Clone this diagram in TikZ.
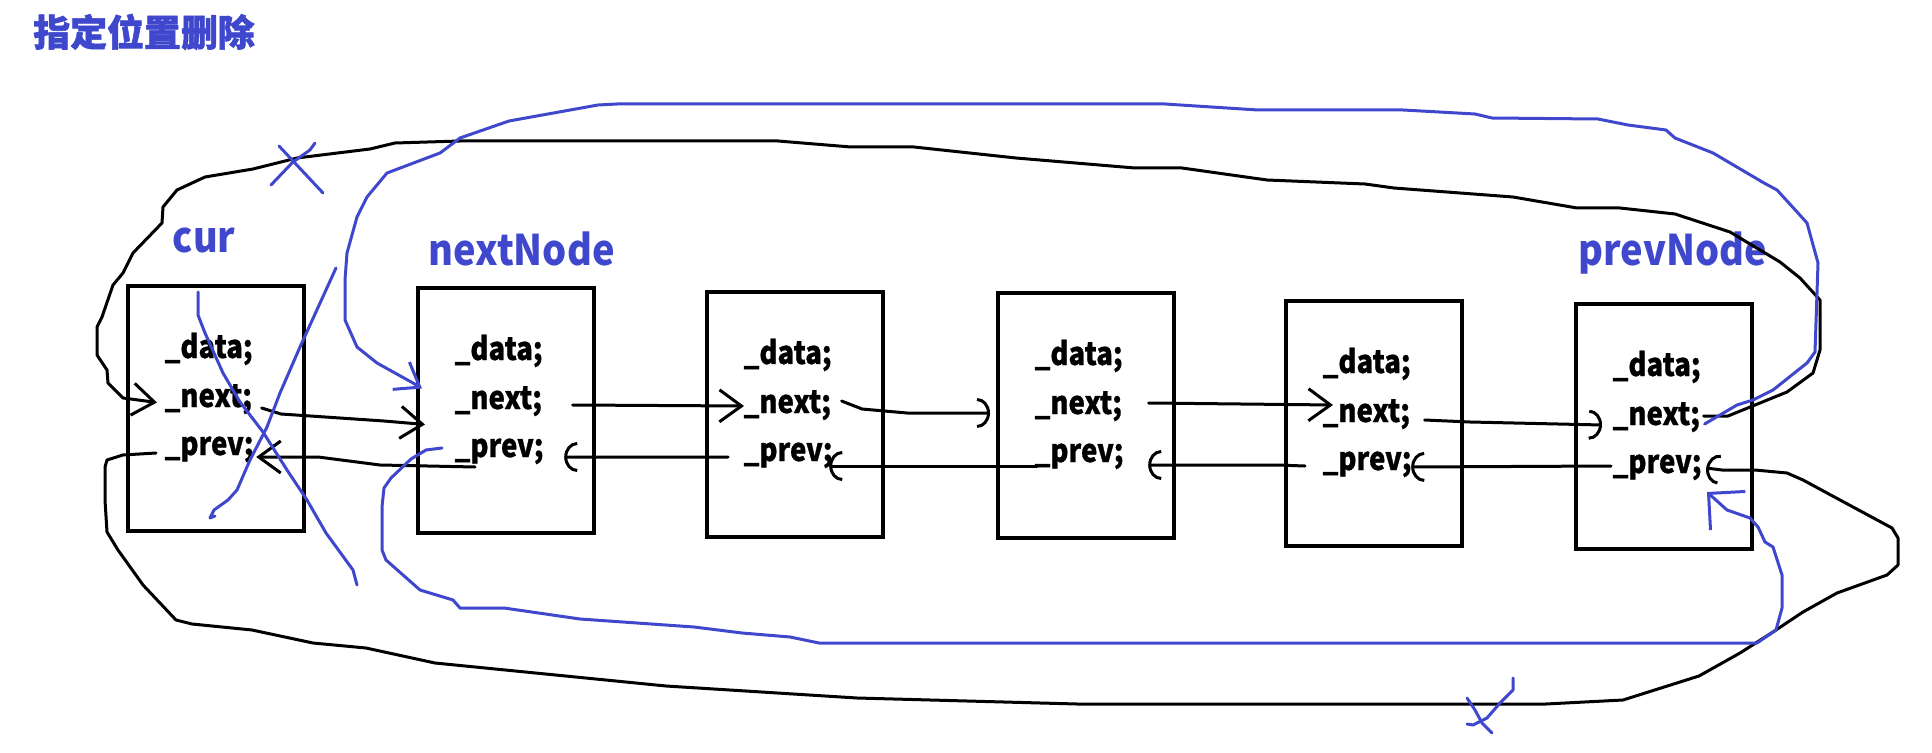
\documentclass[tikz,border=0pt]{standalone}
\usepackage{fontspec}
\setmainfont{Noto Sans CJK SC}
\newfontfamily\memberfont{Noto Sans CJK SC}[FakeStretch=0.87,FakeBold=0.8]
\newfontfamily\namefont{Noto Sans CJK SC}[FakeStretch=0.9]
\newfontfamily\titlefont{Noto Sans CJK SC}[FakeBold=1.5]
\usetikzlibrary{arrows.meta,positioning,calc}
\definecolor{penblue}{RGB}{63,72,204}

\begin{document}
\begin{tikzpicture}[
  x=0.1mm, y=-0.1mm,
  >={Straight Barb[length=2.2mm,width=3.2mm]},
  pen/.style={line width=0.3mm, line cap=round, line join=round},
  bluepen/.style={pen, penblue},
  hookhead/.style={-{Arc Barb[length=1.3mm,width=3mm]}},
  box/.style={draw, line width=0.45mm, minimum width=17.6mm, minimum height=24.5mm,
              inner sep=0pt, outer sep=0pt},
  member/.style={anchor=base west, inner sep=0pt,
                 font=\memberfont\fontsize{9}{10}\selectfont\bfseries},
  varname/.style={anchor=base west, inner sep=0pt, text=penblue,
                  font=\namefont\fontsize{12}{14}\selectfont\bfseries},
  heading/.style={inner sep=0pt, text=penblue,
                  font=\titlefont\fontsize{10.5}{12}\selectfont\bfseries},
]
\useasboundingbox (0,0) rectangle (1932,753);

\node[heading] (ttl) at (144,32) {指定位置删除};

% list nodes
\node[box, anchor=north west] (b1) at (128,286) {};
\node[box, right=11.4mm of b1, yshift=-0.2mm] (b2) {};
\node[box, right=11.3mm of b2, yshift=-0.4mm] (b3) {};
\node[box, right=11.5mm of b3, yshift=-0.1mm] (b4) {};
\node[box, right=11.2mm of b4, yshift=-0.8mm] (b5) {};
\node[box, right=11.4mm of b5, yshift=-0.3mm] (b6) {};

\foreach \i in {1,...,6}{
  \node[member] (d\i) at ($(b\i.north west)+(36,72)$) {\_data;};
  \node[member] (n\i) at ($(b\i.north west)+(36,121)$) {\_next;};
  \node[member] (p\i) at ($(b\i.north west)+(36,169)$) {\_prev;};
}

\node[varname] (lcur) at ($(b1.north west)+(44,-34)$) {cur};
\node[varname] (lnext) at ($(b2.north west)+(10,-22)$) {nextNode};
\node[varname] (lprev) at ($(b6.north west)+(2,-38)$) {prevNode};

% _next links
\draw[pen,->] ($(n1.base east)+(9,1)$) -- (281,414) -- (384,421) -- ($(b2.west)+(7,14)$);
\draw[pen,->] ($(n2.base east)+(30,-4)$) -- ($(n3.base west)+(1,-7)$);
\draw[pen,hookhead] ($(n3.base east)+(10,-12)$) -- (862,409) -- (907,413) -- ($(n4.base west)+(-44,-1)$);
\draw[pen,->] ($(n4.base east)+(26,-11)$) -- ($(n5.base west)+(11,-17)$);
\draw[pen,hookhead] ($(n5.base east)+(14,-2)$) -- (1470,422) -- ($(n6.base west)+(-10,0)$);

% _prev links
\draw[pen,->] ($(p2.base west)+(21,10)$) -- (380,465) -- (318,457) -- ($(p1.base east)+(2,2)$);
\draw[pen,hookhead] ($(p3.base west)+(-15,-4)$) -- ($(p2.base east)+(20,0)$);
\draw[pen,hookhead] ($(p4.base west)+(3,4)$) -- ($(p3.base east)+(-4,5)$);
\draw[pen,hookhead] ($(p5.base west)+(-17,-4)$) -- (1277,465) -- ($(p4.base east)+(24,3)$);
\draw[pen,hookhead] ($(p6.base west)+(-1,-7)$) -- ($(p5.base east)+(-1,-3)$);

% old links around cur (crossed out)
\draw[pen,->] ($(n6.base east)+(3,-9)$) -- (1728,416) -- (1787,392) -- (1813,373) -- (1820,350)
  -- (1820,300) -- (1800,278) -- (1780,262) -- (1730,232) -- (1675,214) -- (1620,208)
  -- (1577,208) -- (1513,197) -- (1394,188) -- (1365,184) -- (1267,180) -- (1182,168)
  -- (1135,168) -- (1016,158) -- (914,147) -- (851,147) -- (778,141) -- (460,141)
  -- (395,143) -- (370,149) -- (297,158) -- (253,169) -- (205,177) -- (177,190)
  -- (163,207) -- (162,223) -- (133,253) -- (123,273) -- (113,285) -- (102,317)
  -- (97,327) -- (97,355) -- (107,370) -- (108,383) -- (123,398) -- ($(b1.west)+(29,-6)$);
\draw[pen,hookhead] ($(p1.base west)+(-8,-2)$) -- (123,455) -- (107,460) -- (105,467)
  -- (105,500) -- (107,532) -- (118,550) -- (143,585) -- (176,620) -- (192,624)
  -- (252,630) -- (313,643) -- (366,648) -- (435,663) -- (666,686) -- (857,698)
  -- (1077,704) -- (1546,704) -- (1623,700) -- (1699,676) -- (1740,653) -- (1773,632)
  -- (1803,612) -- (1837,593) -- (1887,575) -- (1898,565) -- (1898,538) -- (1892,528)
  -- (1827,493) -- (1803,480) -- (1787,473) -- (1755,470) -- (1722,470)
  -- ($(p6.base east)+(4,-5)$);

% new links prevNode <-> nextNode
\draw[bluepen,->] ($(n6.base east)+(4,-1)$) -- (1737,405) -- (1753,400) -- (1773,390)
  -- (1807,363) -- (1815,352) -- (1818,263) -- (1807,223) -- (1798,213) -- (1777,190)
  -- (1764,183) -- (1713,153) -- (1675,138) -- (1666,130) -- (1628,125) -- (1598,119)
  -- (1492,118) -- (1475,114) -- (1403,110) -- (1258,110) -- (1165,104) -- (617,104)
  -- (598,105) -- (509,121) -- (460,138) -- (440,153) -- (387,173) -- (367,197)
  -- (357,217) -- (347,253) -- (345,280) -- (345,320) -- (357,347) -- (377,363)
  -- (413,383) -- ($(b2.west)+(4,-22)$);
\draw[bluepen,-{Straight Barb[length=2.6mm,width=5.2mm]}] ($(p2.base west)+(-12,-9)$)
  -- (426,450) -- (411,459) -- (391,478) -- (384,488) -- (382,507) -- (382,550)
  -- (386,560) -- (420,590) -- (453,600) -- (460,608) -- (504,608) -- (580,619)
  -- (694,627) -- (742,633) -- (790,637) -- (819,643) -- (1757,643) -- (1776,630)
  -- (1782,608) -- (1782,575) -- (1773,547) -- (1765,542) -- (1758,527) -- (1750,518)
  -- (1727,510) -- ($(b6.south east)+(-45,-57)$);

% crossing out
\draw[bluepen] (198,292) -- (198,315) -- (205,333) -- (223,373) -- (240,402) -- (263,432)
  -- (287,470) -- (307,500) -- (326,533) -- (353,570) -- (357,585);
\draw[bluepen] (336,268) -- (300,347) -- (280,393) -- (267,427) -- (250,460) -- (237,490)
  -- (228,500) -- (214,510) -- (210,518) -- (215,516);
\draw[bluepen] (279,146) -- (323,193);
\draw[bluepen] (315,143) -- (310,150) -- (293,162) -- (271,185);
\draw[bluepen] (1467,698) -- (1475,710) -- (1482,723) -- (1492,733);
\draw[bluepen] (1513,678) -- (1513,690) -- (1500,703) -- (1487,718) -- (1473,725) -- (1467,724);
\end{tikzpicture}
\end{document}
